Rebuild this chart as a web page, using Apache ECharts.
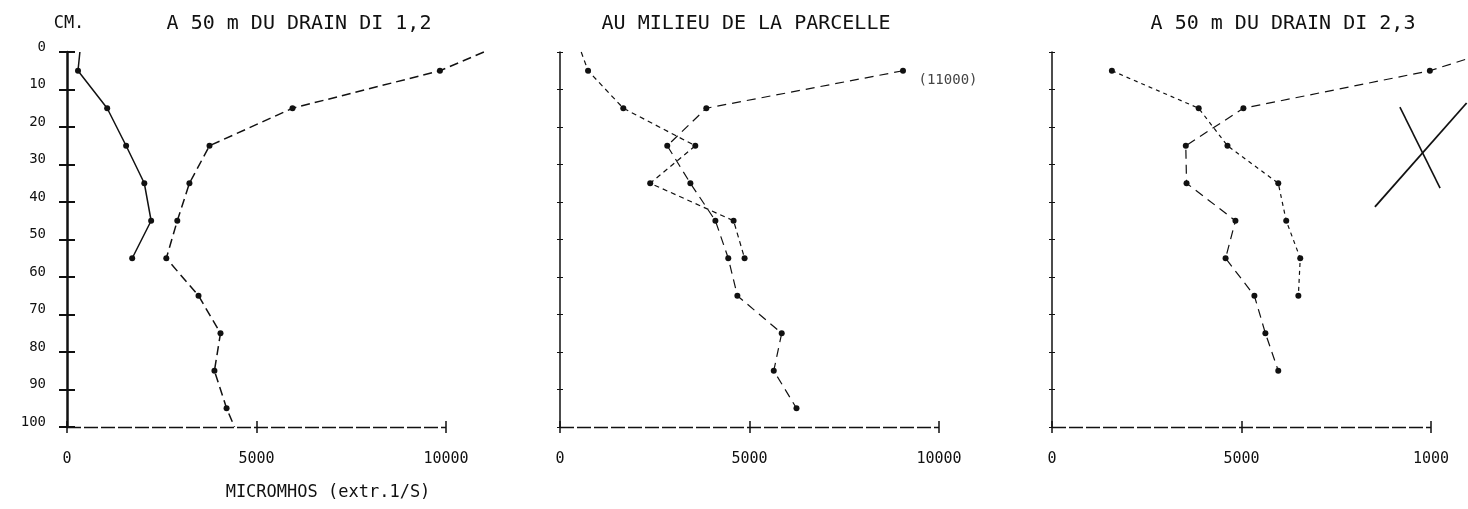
<!DOCTYPE html>
<html>
<head>
<meta charset="utf-8">
<script src="https://cdn.jsdelivr.net/npm/echarts@6/dist/echarts.min.js"></script>
<style>
  html, body { margin: 0; padding: 0; background: #fff; }
  #chart { width: 1468px; height: 509px; }
</style>
</head>
<body>
<div id="chart"></div>
<script>
// depth in cm, conductivity in micromhos (extr. 1/5)
const xTicks = [0, 5000, 10000];

// panel 1 : a 50 m du drain DI 1,2
const p1SolidDepths = [0, 5, 15, 25, 35, 45, 55];
const p1Solid = [340, 290, 1060, 1560, 2040, 2220, 1720];
const p1DashedDepths = [0, 5, 15, 25, 35, 45, 55, 65, 75, 85, 95, 100];
const p1Dashed = [11000, 9840, 5950, 3760, 3230, 2910, 2620, 3470, 4050, 3890, 4210, 4420];

// panel 2 : au milieu de la parcelle
const p2SolidDepths = [0, 5, 15, 25, 35, 45, 55];
const p2Solid = [560, 740, 1670, 3570, 2380, 4580, 4870];
const p2DashedDepths = [5, 15, 25, 35, 45, 55, 65, 75, 85, 95];
const p2Dashed = [9050, 3860, 2830, 3440, 4100, 4440, 4680, 5850, 5640, 6240];

// panel 3 : a 50 m du drain DI 2,3 (dashed curve leaves the sheet at the top right)
const p3SolidDepths = [5, 15, 25, 35, 45, 55, 65];
const p3Solid = [1580, 3870, 4630, 5970, 6180, 6550, 6500];
const p3DashedDepths = [2, 5, 15, 25, 35, 45, 55, 65, 75, 85];
const p3Dashed = [10900, 9970, 5050, 3530, 3550, 4840, 4580, 5340, 5630, 5970];

// crossed-out stroke drawn on panel 3
const p3CrossA = [9180, 10240];
const p3CrossADepths = [14.7, 36.3];
const p3CrossB = [10940, 8520];
const p3CrossBDepths = [13.6, 41.3];

const titles = ['A 50 m DU DRAIN DI 1,2', 'AU MILIEU DE LA PARCELLE', 'A 50 m DU DRAIN DI 2,3'];
const xLabels = [['0', '5000', '10000'], ['0', '5000', '10000'], ['0', '5000', '1000']];

const FONT = 'DejaVu Sans Mono';
const INK = '#111';
// room for the curves running past 10000 (panel 3 stops at the sheet edge)
const xMax = [12000, 12000, 10950];

// measured points sit at 5,15,25... ; the other ends are just line ends
function toData(vals, depths) {
  return vals.map((v, i) => {
    if (depths[i] % 10 === 5) return [v, depths[i]];
    return { value: [v, depths[i]], symbol: 'none' };
  });
}

const gridLefts = [67, 560, 1052];
const pxPer10000 = 379;
const grids = gridLefts.map((l, g) => ({ left: l, width: pxPer10000 * xMax[g] / 10000, top: 52, height: 375 }));

const xAxes = [];
const yAxes = [];
gridLefts.forEach((l, g) => {
  const first = g === 0;
  // outside ticks + labels
  xAxes.push({
    gridIndex: g, type: 'value', min: 0, max: xMax[g], position: 'bottom',
    axisLine: { show: false, onZero: false },
    axisTick: { length: 6, customValues: xTicks, lineStyle: { color: INK, width: 1.5 } },
    splitLine: { show: false },
    axisLabel: {
      margin: 25, fontFamily: FONT, fontSize: 15, color: INK,
      customValues: xTicks,
      formatter: v => xLabels[g][xTicks.indexOf(v)]
    }
  });
  // inside ticks (so they cross the axis)
  xAxes.push({
    gridIndex: g, type: 'value', min: 0, max: xMax[g], position: 'bottom',
    axisLine: { show: false, onZero: false },
    axisTick: { inside: true, length: 6, customValues: xTicks, lineStyle: { color: INK, width: 1.5 } },
    splitLine: { show: false }, axisLabel: { show: false }
  });
  yAxes.push({
    gridIndex: g, type: 'value', min: 0, max: 100, interval: 10, inverse: true, position: 'left',
    axisLine: { onZero: false, lineStyle: { color: INK, width: first ? 2.5 : 1.5 } },
    axisTick: { length: first ? 8 : 3, lineStyle: { color: INK, width: first ? 2 : 1 } },
    splitLine: { show: false },
    axisLabel: {
      show: first, margin: 21, fontFamily: FONT, fontSize: 14, color: INK,
      verticalAlign: 'bottom', lineHeight: 10
    }
  });
  yAxes.push({
    gridIndex: g, type: 'value', min: 0, max: 100, interval: 10, inverse: true, position: 'left',
    axisLine: { show: false, onZero: false },
    axisTick: { inside: true, length: first ? 8 : 3, lineStyle: { color: INK, width: first ? 2 : 1 } },
    splitLine: { show: false }, axisLabel: { show: false }
  });
});

function lineSeries(g, vals, depths, dash, width) {
  return {
    type: 'line', xAxisIndex: g * 2, yAxisIndex: g * 2,
    data: toData(vals, depths),
    clip: false, smooth: false,
    symbol: 'circle', symbolSize: 6,
    itemStyle: { color: INK },
    lineStyle: { color: INK, width: width, type: dash },
    animation: false
  };
}

// the horizontal axis line only runs 0 -> 10000
function axisLineMark() {
  return {
    silent: true, symbol: ['none', 'none'], animation: false,
    label: { show: false },
    lineStyle: { color: INK, width: 1.4, type: [14, 3] },
    data: [[{ coord: [0, 100] }, { coord: [10000, 100] }]]
  };
}

const series = [
  Object.assign(lineSeries(0, p1Solid, p1SolidDepths, 'solid', 1.5), { markLine: axisLineMark() }),
  lineSeries(0, p1Dashed, p1DashedDepths, [9, 5], 1.5),
  Object.assign(lineSeries(1, p2Solid, p2SolidDepths, [5, 4], 1.2), { markLine: axisLineMark() }),
  lineSeries(1, p2Dashed, p2DashedDepths, [9, 6], 1.2),
  Object.assign(lineSeries(2, p3Solid, p3SolidDepths, [4, 4], 1.2), { markLine: axisLineMark() }),
  lineSeries(2, p3Dashed, p3DashedDepths, [9, 6], 1.2),
  Object.assign(lineSeries(2, p3CrossA, p3CrossADepths, 'solid', 1.6), { symbol: 'none' }),
  Object.assign(lineSeries(2, p3CrossB, p3CrossBDepths, 'solid', 1.8), { symbol: 'none' })
];

function txt(text, x, y, size, color) {
  return {
    type: 'text', x: x, y: y, silent: true,
    style: {
      text: text, fill: color || INK, font: size + 'px "' + FONT + '"',
      textAlign: 'center', textVerticalAlign: 'middle'
    }
  };
}

const option = {
  backgroundColor: '#fff',
  animation: false,
  graphic: [
    txt('CM.', 69, 24, 17),
    txt(titles[0], 299, 24, 20),
    txt(titles[1], 746, 24, 20),
    txt(titles[2], 1283, 24, 20),
    txt('(11000)', 948, 80, 14, '#444'),
    txt('MICROMHOS (extr.1/S)', 328, 493, 17)
  ],
  grid: grids,
  xAxis: xAxes,
  yAxis: yAxes,
  series: series
};

const chart = echarts.init(document.getElementById('chart'));
chart.setOption(option);
</script>
</body>
</html>
